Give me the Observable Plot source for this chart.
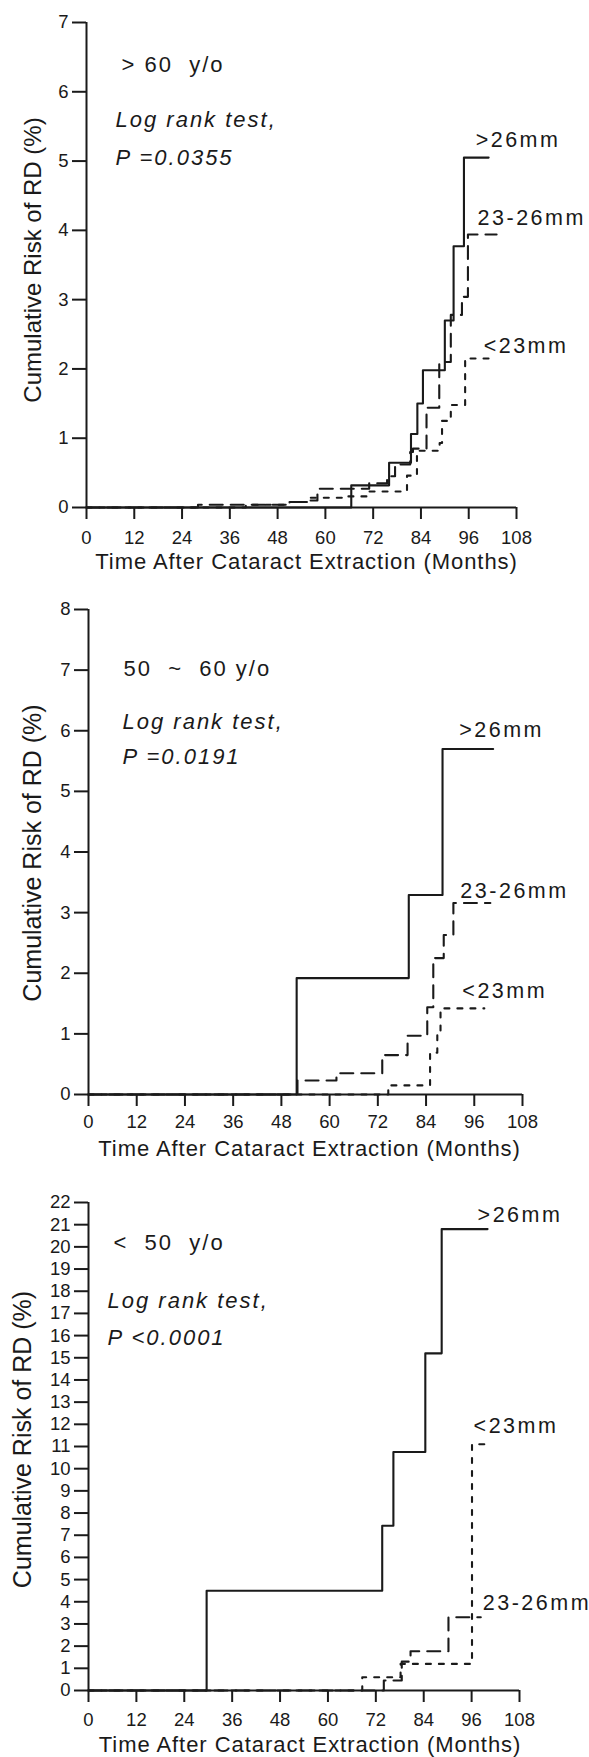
<!DOCTYPE html>
<html><head><meta charset="utf-8">
<script src="https://cdn.jsdelivr.net/npm/d3@7"></script>
<script src="https://cdn.jsdelivr.net/npm/@observablehq/plot@0.6"></script>
<style>
body{margin:0;background:#fff;}
#chart{width:589px;}
#chart svg{display:block;overflow:visible;}
</style></head><body><div id="chart"></div>
<script>
// ---------- data ----------
const groupNames = [">26mm", "23-26mm", "<23mm"];
const xTicks = [0, 12, 24, 36, 48, 60, 72, 84, 96, 108];
const xTitle = "Time After Cataract Extraction (Months)";
const yTitle = "Cumulative Risk of RD (%)";

// Panel 1 : > 60 y/o   [month, cumulative risk %]
const p1Ticks = [0, 1, 2, 3, 4, 5, 6, 7];
const p1Over26 = [[0,0],[66.5,0.32],[76,0.645],[81.5,1.06],[83.1,1.5],[84.5,1.98],[90,2.7],[92.2,3.77],[94.8,5.05],[101,5.05]];
const p1Mid = [[0,0],[28,0.04],[51,0.08],[55,0.1],[58,0.27],[71,0.35],[75.5,0.45],[77.5,0.62],[81.3,0.8],[82,0.85],[85.4,1.44],[88.6,2.1],[91.5,2.78],[94.3,3.04],[95.8,3.94],[103,3.94]];
const p1Under23 = [[0,0],[40,0.04],[51,0.08],[56,0.14],[65.5,0.16],[71,0.23],[80.5,0.46],[83,0.82],[88.7,0.93],[89.3,1.25],[90.8,1.31],[91.5,1.48],[95.1,2.15],[101,2.15]];
const p1Texts = ["> 60\u00a0 y/o", "Log rank test,", "P =0.0355"];

// Panel 2 : 50 ~ 60 y/o
const p2Ticks = [0, 1, 2, 3, 4, 5, 6, 7, 8];
const p2Over26 = [[0,0],[51.8,1.92],[79.7,3.29],[88.1,5.7],[100.7,5.7]];
const p2Mid = [[0,0],[52,0.23],[61.7,0.35],[73.1,0.65],[79.4,0.97],[84.3,1.44],[85.8,2.25],[88.4,2.63],[90.8,3.16],[100,3.16]];
const p2Under23 = [[0,0],[74.6,0.15],[85,0.69],[86.8,1.03],[87.6,1.42],[98.5,1.42]];
const p2Texts = ["50 \u00a0~\u00a0 60 y/o", "Log rank test,", "P =0.0191"];

// Panel 3 : < 50 y/o
const p3Ticks = d3.range(0, 23);
const p3Over26 = [[0,0],[29.6,4.5],[73.6,7.43],[76.4,10.75],[84.4,15.2],[88.5,20.8],[100,20.8]];
const p3Mid = [[0,0],[74,0.45],[78.5,1.3],[80.7,1.77],[90.2,3.3],[98.3,3.3]];
const p3Under23 = [[0,0],[68.6,0.6],[78.2,1.2],[96.1,11.1],[100,11.1]];
const p3Texts = ["<\u00a0 50\u00a0 y/o", "Log rank test,", "P <0.0001"];

// ---------- styles ----------
const FONT = "'Liberation Sans', Arial, Helvetica, sans-serif";
const INK = "#1a1a1a";
const dashes = {">26mm": null, "23-26mm": "13,8", "<23mm": "5,8"};

function panel(cfg) {
  const series = [
    {name: groupNames[0], pts: cfg.over26},
    {name: groupNames[1], pts: cfg.mid},
    {name: groupNames[2], pts: cfg.under23}
  ];
  const marks = [
    Plot.ruleY([0], {stroke: INK, strokeWidth: 2}),
    Plot.ruleX([0], {stroke: INK, strokeWidth: 2}),
    Plot.axisX({ticks: xTicks, tickSize: 12, tickPadding: cfg.tickPadX, fontSize: 18.5, stroke: INK, strokeWidth: 2, label: null, tickFormat: d => String(d)}),
    Plot.axisY({ticks: cfg.yTicks, tickSize: 14, tickPadding: 4, fontSize: 18.5, stroke: INK, strokeWidth: 2, label: null, tickFormat: d => String(d)})
  ];
  series.forEach((s, i) => {
    marks.push(Plot.line(s.pts, {x: d => d[0], y: d => d[1], curve: "step-after", stroke: INK, strokeWidth: 2.1, strokeDasharray: dashes[s.name]}));
    const last = s.pts[s.pts.length - 1];
    const off = cfg.labelOff[i];
    marks.push(Plot.text([{t: last[0], r: last[1], name: s.name}], {x: "t", y: "r", text: "name", textAnchor: "start", lineAnchor: "bottom", dx: off[0], dy: off[1], fontSize: 21.5, fill: INK}));
  });
  cfg.texts.forEach((txt, i) => {
    const o = cfg.textOff[i];
    marks.push(Plot.text([txt], {frameAnchor: "top-left", textAnchor: "start", lineAnchor: "bottom", dx: o[0], dy: o[1], fontSize: 22, fontStyle: i === 0 ? "normal" : "italic", fill: INK}));
  });
  marks.push(Plot.text([xTitle], {frameAnchor: "bottom", textAnchor: "middle", lineAnchor: "bottom", dy: 61, dx: cfg.xTitleDx, fontSize: 22, fill: INK}));
  marks.push(Plot.text([yTitle], {frameAnchor: "left", textAnchor: "middle", lineAnchor: "middle", rotate: -90, dx: cfg.yTitle[0], dy: cfg.yTitle[1], fontSize: cfg.yTitle[2], fill: INK}));
  const svg = Plot.plot({
    width: 589,
    height: cfg.height,
    marginTop: cfg.m[0], marginRight: cfg.m[1], marginBottom: cfg.m[2], marginLeft: cfg.m[3],
    x: {domain: [0, 108]},
    y: {domain: [0, cfg.yTicks[cfg.yTicks.length - 1]]},
    style: {fontFamily: FONT, color: INK, background: "white", overflow: "visible"},
    marks
  });
  const annot = new Set(cfg.texts);
  const labels = new Set(groupNames);
  d3.select(svg).selectAll("text").each(function () {
    const t = this.textContent;
    if (annot.has(t)) this.style.letterSpacing = "2px";
    else if (labels.has(t)) this.style.letterSpacing = "2.5px";
    else if (t === xTitle) this.style.letterSpacing = "0.95px";
  });
  return svg;
}

const root = document.getElementById("chart");
root.append(panel({
  over26: p1Over26, mid: p1Mid, under23: p1Under23, yTicks: p1Ticks,
  height: 578, m: [22, 73, 71, 86], tickPadX: 11,
  labelOff: [[-13, -11], [-19, -10], [-5, -6]],
  texts: p1Texts, textOff: [[35, 49], [29, 104], [29, 142]],
  xTitleDx: 5, yTitle: [-53, -5, 24]
}));
root.append(panel({
  over26: p2Over26, mid: p2Mid, under23: p2Under23, yTicks: p2Ticks,
  height: 586, m: [31, 67, 70, 88], tickPadX: 8,
  labelOff: [[-34, -12], [-30, -5], [-22, -10]],
  texts: p2Texts, textOff: [[35, 66], [34, 119], [34, 154]],
  xTitleDx: 4, yTitle: [-56, 1, 25]
}));
root.append(panel({
  over26: p3Over26, mid: p3Mid, under23: p3Under23, yTicks: p3Ticks,
  height: 593, m: [38, 70, 67, 88], tickPadX: 10,
  labelOff: [[-10, -7], [2, -7], [-14, -11]],
  texts: p3Texts, textOff: [[25, 47], [19, 105], [19, 142]],
  xTitleDx: 6, yTitle: [-66, -7, 25]
}));
</script></body></html>
